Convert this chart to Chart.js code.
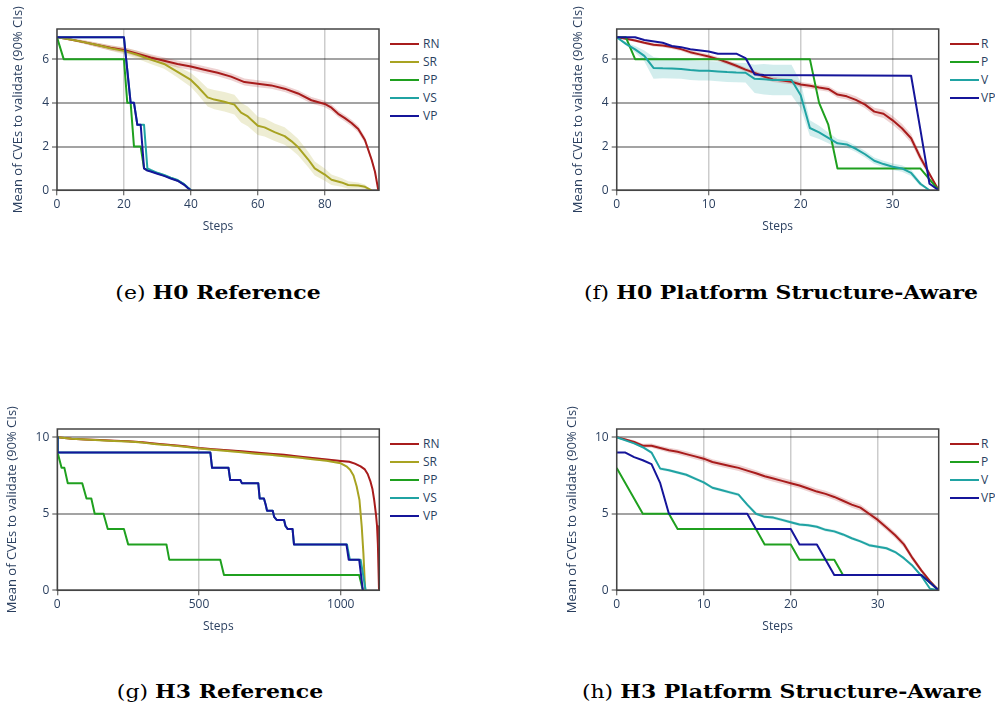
<!DOCTYPE html>
<html>
<head>
<meta charset="utf-8">
<script src="https://cdn.jsdelivr.net/npm/chart.js@4.4.1/dist/chart.umd.min.js"></script>
<style>
  html, body { margin: 0; padding: 0; background: #fff; }
  body { width: 995px; height: 708px; position: relative; overflow: hidden; font-family: 'Open Sans', sans-serif; }
  canvas { position: absolute; }
  .legend { position: absolute; font: 12px 'Open Sans', sans-serif; color: #2a3f5f; }
  .legend .item { position: absolute; left: 0; height: 18px; line-height: 18px; white-space: nowrap; }
  .legend .swatch { position: absolute; left: 0; top: 8px; width: 29px; height: 2px; }
  .legend .name { position: absolute; top: 0; }
  .caption { position: absolute; font-family: 'DejaVu Serif', serif; font-size: 18px; line-height: 20px; color: #000; white-space: nowrap; transform: translateX(-50%) scaleX(1.22); }
  .caption b { font-weight: bold; }
</style>
</head>
<body>
<canvas id="e" width="385" height="240" style="left:0px;top:0px"></canvas>
<canvas id="f" width="385" height="240" style="left:560px;top:0px"></canvas>
<canvas id="g" width="385" height="240" style="left:0px;top:400px"></canvas>
<canvas id="h" width="385" height="240" style="left:560px;top:400px"></canvas>

<div class="caption" style="left:218px;top:283px">(e) <b>H0 Reference</b></div>
<div class="caption" style="left:781px;top:283px">(f) <b>H0 Platform Structure-Aware</b></div>
<div class="caption" style="left:220px;top:682px">(g) <b>H3 Reference</b></div>
<div class="caption" style="left:782px;top:682px">(h) <b>H3 Platform Structure-Aware</b></div>

<script>
// ---------- tick labels ----------
const h0RefTicksX = [0, 20, 40, 60, 80];
const h0PsaTicksX = [0, 10, 20, 30];
const h3RefTicksX = [0, 500, 1000];
const h3PsaTicksX = [0, 10, 20, 30];
const h0TicksY = [0, 2, 4, 6];
const h3TicksY = [0, 5, 10];
const xTitle = 'Steps';
const yTitle = 'Mean of CVEs to validate (90% CIs)';

// ---------- (e) H0 Reference ----------
const eRN_steps = [0,4,8,12,16,20,24,28,32,36,40,44,48,52,56,60,64,68,72,76,80,82,84,86,88,90,92,94,95,96];
const eRN_mean  = [7,6.9,6.78,6.65,6.52,6.42,6.25,6.08,5.93,5.78,5.66,5.52,5.38,5.2,4.95,4.88,4.8,4.65,4.43,4.12,3.95,3.78,3.5,3.3,3.08,2.8,2.3,1.4,0.85,0];
const eRN_ci    = [0,0.05,0.08,0.1,0.12,0.13,0.14,0.15,0.15,0.16,0.16,0.16,0.16,0.16,0.16,0.16,0.15,0.15,0.15,0.15,0.15,0.15,0.15,0.15,0.15,0.15,0.15,0.12,0.1,0];

const eSR_steps = [0,4,8,12,16,20,24,28,32,36,40,42,45,47,50,53,55,57,60,62,65,68,70,72,75,77,80,82,85,87,90,92,94];
const eSR_mean  = [7,6.9,6.78,6.65,6.5,6.38,6.2,5.98,5.78,5.42,5.05,4.75,4.25,4.15,4.05,3.92,3.55,3.38,2.95,2.88,2.66,2.48,2.25,1.98,1.42,1.0,0.72,0.48,0.36,0.24,0.22,0.16,0];
const eSR_ci    = [0,0.05,0.08,0.1,0.12,0.15,0.18,0.2,0.22,0.26,0.32,0.36,0.42,0.44,0.45,0.45,0.45,0.45,0.42,0.42,0.4,0.4,0.38,0.38,0.35,0.32,0.28,0.24,0.2,0.17,0.14,0.1,0];

const ePP_steps = [0,2,20,21,22,23,25,26,27,28,30,32,34,36,38,39,40];
const ePP_mean  = [7,6,6,4,4,2,2,1,0.93,0.88,0.78,0.68,0.56,0.45,0.27,0.13,0];

const eVS_steps = [0,20,21,22,23,24,26,27,28,30,32,34,36,38,39,40];
const eVS_mean  = [7,7,5.5,4,4,3,3,1,0.93,0.8,0.7,0.58,0.47,0.28,0.14,0];

const eVP_steps = [0,20,21,22,23,24,25,26,27,28,30,32,34,36,38,39,40];
const eVP_mean  = [7,7,5.5,4,4,3,3,1,0.9,0.86,0.76,0.66,0.54,0.44,0.25,0.12,0];

// ---------- (f) H0 Platform Structure-Aware ----------
const fR_steps = [0,1,2,3,4,5,6,7,8,9,10,11,12,13,14,15,16,17,18,19,20,21,22,23,24,25,26,27,28,29,30,31,32,33,34,35];
const fR_mean  = [7,6.93,6.85,6.75,6.66,6.62,6.56,6.46,6.32,6.22,6.12,6.0,5.86,5.7,5.52,5.37,5.2,5.07,5.02,4.97,4.84,4.78,4.7,4.64,4.38,4.3,4.14,3.92,3.6,3.5,3.2,2.84,2.38,1.5,0.75,0];
const fR_ci    = [0,0.04,0.06,0.07,0.08,0.08,0.09,0.09,0.1,0.1,0.1,0.1,0.1,0.1,0.1,0.1,0.12,0.12,0.12,0.12,0.12,0.12,0.12,0.13,0.14,0.15,0.16,0.17,0.18,0.19,0.2,0.2,0.2,0.18,0.12,0];

const fP_steps = [0,1,2,21,22,23,24,33,35];
const fP_mean  = [7,7,6,6,4,3,1,1,0];

const fV_steps = [0,1,2,3,4,5,6,7,8,9,10,11,12,13,14,15,16,17,18,19,20,21,22,23,24,25,26,27,28,29,30,31,32,33,34];
const fV_mean  = [7,6.7,6.45,6.15,5.6,5.58,5.57,5.55,5.5,5.47,5.47,5.44,5.41,5.39,5.38,5.1,5.08,5.05,5.05,5.05,4.35,2.85,2.65,2.4,2.15,2.1,1.9,1.65,1.35,1.2,1.08,1.0,0.8,0.3,0];
const fV_ci    = [0,0.08,0.15,0.25,0.5,0.45,0.45,0.45,0.45,0.45,0.45,0.45,0.45,0.45,0.45,0.65,0.7,0.7,0.7,0.7,0.6,0.35,0.3,0.25,0.2,0.15,0.15,0.15,0.15,0.15,0.15,0.15,0.15,0.1,0];

const fVP_steps = [0,2,3,5,6,7,8,10,11,13,14,15,16,32,33,34,35];
const fVP_mean  = [7,7,6.88,6.75,6.6,6.55,6.45,6.35,6.25,6.25,6.05,5.3,5.27,5.24,2.8,0.3,0];

// ---------- (g) H3 Reference ----------
const gRN_steps = [0,50,100,150,200,250,300,350,400,450,500,550,600,650,700,750,800,850,900,950,1000,1030,1050,1070,1085,1095,1105,1112,1118,1124,1128,1131,1133,1135];
const gRN_mean  = [10,9.9,9.85,9.82,9.78,9.74,9.68,9.58,9.5,9.42,9.3,9.22,9.15,9.08,9.0,8.93,8.85,8.75,8.65,8.55,8.45,8.4,8.28,8.1,7.9,7.6,7.1,6.6,5.9,5.0,4.2,3.0,1.5,0];
const gRN_ci    = [0,0.05,0.06,0.06,0.06,0.06,0.06,0.06,0.06,0.06,0.06,0.06,0.06,0.06,0.06,0.06,0.06,0.06,0.06,0.06,0.06,0.06,0.06,0.06,0.06,0.06,0.06,0.06,0.06,0.06,0.06,0.05,0.03,0];

const gSR_steps = [0,50,100,150,200,250,300,350,400,450,500,550,600,650,700,750,800,850,900,950,1000,1020,1033,1045,1056,1066,1074,1080,1086];
const gSR_mean  = [10,9.9,9.85,9.8,9.76,9.72,9.65,9.55,9.47,9.38,9.27,9.18,9.1,9.02,8.93,8.85,8.76,8.67,8.57,8.46,8.3,8.1,7.88,7.5,6.8,5.9,4.17,2.4,0];
const gSR_ci    = [0,0.05,0.06,0.06,0.06,0.06,0.06,0.06,0.06,0.06,0.06,0.06,0.06,0.06,0.06,0.06,0.06,0.06,0.06,0.06,0.06,0.06,0.06,0.06,0.06,0.06,0.05,0.03,0];

const gPP_steps = [0,1,15,25,37,88,103,120,132,163,178,235,250,385,395,575,588,1065,1078];
const gPP_mean  = [10,9,8,8,7,7,6,6,5,5,4,4,3,3,2,2,1,1,0];

const gVS_steps = [0,1,540,546,604,610,646,651,709,714,729,735,740,760,765,774,800,805,813,830,835,1022,1032,1070,1088];
const gVS_mean  = [10,9,9,8,8,7.2,7.2,7,7,6,6,5.6,5.2,5.2,4.8,4.6,4.6,4.2,4,4,3,3,2,2,0];

const gVP_steps = [0,1,540,546,604,610,646,651,709,714,729,735,740,760,765,774,800,805,813,830,835,1020,1028,1065,1078];
const gVP_mean  = [10,9,9,8,8,7.2,7.2,7,7,6,6,5.6,5.2,5.2,4.8,4.6,4.6,4.2,4,4,3,3,2,2,0];

// ---------- (h) H3 Platform Structure-Aware ----------
const hR_steps = [0,1,2,3,4,5,6,7,8,9,10,11,12,13,14,15,16,17,18,19,20,21,22,23,24,25,26,27,28,29,30,31,32,33,34,35,36,37];
const hR_mean  = [10,9.85,9.7,9.45,9.45,9.3,9.15,9.05,8.9,8.75,8.6,8.38,8.25,8.12,8.0,7.82,7.65,7.45,7.3,7.15,7.0,6.85,6.65,6.45,6.3,6.1,5.85,5.6,5.4,5.0,4.6,4.1,3.6,3.0,2.1,1.3,0.6,0];
const hR_ci    = [0,0.08,0.1,0.12,0.14,0.15,0.16,0.17,0.18,0.18,0.18,0.19,0.19,0.19,0.2,0.2,0.2,0.2,0.2,0.2,0.2,0.2,0.2,0.2,0.2,0.2,0.2,0.2,0.2,0.2,0.2,0.2,0.2,0.2,0.18,0.15,0.1,0];

const hP_steps = [0,3,6,7,16,17,20,21,25,26,35,37];
const hP_mean  = [8,5,5,4,4,3,3,2,2,1,1,0];

const hV_steps = [0,1,2,3,4,5,6,7,8,9,10,11,12,13,14,15,16,17,18,19,20,21,22,23,24,25,26,27,28,29,30,31,32,33,34,35,36,37];
const hV_mean  = [10,9.8,9.6,9.35,9.0,7.95,7.85,7.7,7.55,7.3,7.05,6.7,6.55,6.4,6.25,5.6,5.0,4.8,4.75,4.6,4.45,4.3,4.25,4.15,3.95,3.85,3.65,3.4,3.2,2.95,2.85,2.75,2.5,2.1,1.6,0.95,0.1,0];
const hV_ci    = [0,0.05,0.06,0.08,0.1,0.1,0.1,0.1,0.1,0.1,0.1,0.1,0.1,0.1,0.1,0.1,0.1,0.1,0.1,0.1,0.1,0.1,0.1,0.1,0.1,0.1,0.1,0.1,0.1,0.1,0.1,0.1,0.1,0.1,0.1,0.08,0.04,0];

const hVP_steps = [0,1,2,3,4,5,6,15,16,20,21,23,25,35,37];
const hVP_mean  = [9,9,8.7,8.5,8.25,7.0,5,5,4,4,3,3,1,1,0];

// ---------- styling ----------
const COLORS = {
  red:   '#a81c1c', olive: '#a8a322', green: '#1fa01f', teal: '#20a3a3', navy: '#15159a'
};
const BANDS = {
  red: 'rgba(168,28,28,0.2)', olive: 'rgba(168,163,34,0.2)', teal: 'rgba(32,163,163,0.2)'
};
const TEXT = '#2a3f5f';
const FONT = { family: "'Open Sans', sans-serif", size: 12 };

const toPoints = (steps, vals) => steps.map((x, i) => ({ x, y: vals[i] }));

// dark frame around the plotting area
const framePlugin = {
  id: 'frame',
  afterDatasetsDraw(chart) {
    const { ctx, chartArea: a } = chart;
    ctx.save();
    ctx.strokeStyle = '#444';
    ctx.lineWidth = 1.5;
    ctx.strokeRect(a.left, a.top, a.right - a.left, a.bottom - a.top);
    ctx.restore();
  }
};

// vertical axis title, centred on the plot area and free to run past it
const yTitlePlugin = {
  id: 'yTitle',
  afterDraw(chart, args, opts) {
    const { ctx, chartArea: a } = chart;
    ctx.save();
    ctx.font = "13px 'Open Sans', sans-serif";
    ctx.fillStyle = TEXT;
    ctx.textAlign = 'center';
    ctx.textBaseline = 'middle';
    ctx.translate(opts.x, (a.top + a.bottom) / 2);
    ctx.rotate(-Math.PI / 2);
    ctx.fillText(opts.text, 0, 0);
    ctx.restore();
  }
};

function buildPanel(id, cfg) {
  const datasets = [];
  cfg.series.forEach(s => {
    if (!s.ci) return;
    datasets.push({
      data: s.steps.map((x, i) => ({ x, y: s.mean[i] + s.ci[i] })),
      borderWidth: 0, pointRadius: 0, fill: false, order: 20
    });
    datasets.push({
      data: s.steps.map((x, i) => ({ x, y: s.mean[i] - s.ci[i] })),
      borderWidth: 0, pointRadius: 0, fill: '-1', backgroundColor: BANDS[s.color], order: 20
    });
  });
  cfg.series.forEach((s, k) => {
    datasets.push({
      label: s.name,
      data: toPoints(s.steps, s.mean),
      borderColor: COLORS[s.color],
      borderWidth: 2,
      borderJoinStyle: 'round',
      pointRadius: 0,
      tension: 0,
      fill: false,
      order: 10 - k
    });
  });

  new Chart(document.getElementById(id), {
    type: 'line',
    data: { datasets },
    plugins: [framePlugin, yTitlePlugin],
    options: {
      responsive: false,
      animation: false,
      devicePixelRatio: 1,
      layout: { autoPadding: false, padding: { left: 0, top: 29, right: cfg.padRight, bottom: 0 } },
      plugins: {
        legend: { display: false },
        tooltip: { enabled: false },
        yTitle: { x: cfg.titleX, text: yTitle }
      },
      scales: {
        x: {
          type: 'linear', min: 0, max: cfg.xMax,
          afterBuildTicks: sc => { sc.ticks = cfg.xTicks.map(v => ({ value: v })); },
          afterFit: sc => { sc.height = 49.7; },
          border: { display: false },
          grid: { color: 'rgba(0,0,0,0.2)', lineWidth: 1.5, tickColor: '#444', tickLength: 5, tickWidth: 1 },
          ticks: { color: TEXT, font: FONT, padding: 2, maxRotation: 0, autoSkip: false, callback: v => String(v) },
          title: { display: true, text: xTitle, color: TEXT, font: FONT, padding: { top: 0, bottom: 5.8 } }
        },
        y: {
          type: 'linear', min: 0, max: cfg.yMax,
          afterBuildTicks: sc => { sc.ticks = cfg.yTicks.map(v => ({ value: v })); },
          afterFit: sc => { sc.width = cfg.axisW; },
          border: { display: false },
          grid: { color: 'rgba(0,0,0,0.36)', lineWidth: 2, tickColor: '#444', tickLength: 5, tickWidth: 1 },
          ticks: { color: TEXT, font: FONT, padding: 3, callback: v => String(v) },
          title: { display: false }
        }
      }
    }
  });

  // legend beside the plot
  const box = document.createElement('div');
  box.className = 'legend';
  box.style.left = cfg.legendX + 'px';
  box.style.top = cfg.legendY + 'px';
  cfg.series.forEach((s, k) => {
    const item = document.createElement('div');
    item.className = 'item';
    item.style.top = (k * 18.1) + 'px';
    const sw = document.createElement('div');
    sw.className = 'swatch';
    sw.style.background = COLORS[s.color];
    const nm = document.createElement('div');
    nm.className = 'name';
    nm.style.left = cfg.labelDx + 'px';
    nm.textContent = s.name;
    item.appendChild(sw); item.appendChild(nm);
    box.appendChild(item);
  });
  document.body.appendChild(box);
}

buildPanel('e', {
  xMax: 96.2, yMax: 7.38, xTicks: h0RefTicksX, yTicks: h0TicksY,
  axisW: 57, padRight: 6, titleX: 18, legendX: 390, legendY: 35, labelDx: 33,
  series: [
    { name: 'RN', color: 'red',   steps: eRN_steps, mean: eRN_mean, ci: eRN_ci },
    { name: 'SR', color: 'olive', steps: eSR_steps, mean: eSR_mean, ci: eSR_ci },
    { name: 'PP', color: 'green', steps: ePP_steps, mean: ePP_mean },
    { name: 'VS', color: 'teal',  steps: eVS_steps, mean: eVS_mean },
    { name: 'VP', color: 'navy',  steps: eVP_steps, mean: eVP_mean }
  ]
});

buildPanel('f', {
  xMax: 35, yMax: 7.38, xTicks: h0PsaTicksX, yTicks: h0TicksY,
  axisW: 56.7, padRight: 6.3, titleX: 18, legendX: 950, legendY: 35, labelDx: 31,
  series: [
    { name: 'R',  color: 'red',   steps: fR_steps,  mean: fR_mean, ci: fR_ci },
    { name: 'P',  color: 'green', steps: fP_steps,  mean: fP_mean },
    { name: 'V',  color: 'teal',  steps: fV_steps,  mean: fV_mean, ci: fV_ci },
    { name: 'VP', color: 'navy',  steps: fVP_steps, mean: fVP_mean }
  ]
});

buildPanel('g', {
  xMax: 1136, yMax: 10.54, xTicks: h3RefTicksX, yTicks: h3TicksY,
  axisW: 57.3, padRight: 5.7, titleX: 12, legendX: 390, legendY: 435, labelDx: 33,
  series: [
    { name: 'RN', color: 'red',   steps: gRN_steps, mean: gRN_mean, ci: gRN_ci },
    { name: 'SR', color: 'olive', steps: gSR_steps, mean: gSR_mean, ci: gSR_ci },
    { name: 'PP', color: 'green', steps: gPP_steps, mean: gPP_mean },
    { name: 'VS', color: 'teal',  steps: gVS_steps, mean: gVS_mean },
    { name: 'VP', color: 'navy',  steps: gVP_steps, mean: gVP_mean }
  ]
});

buildPanel('h', {
  xMax: 37, yMax: 10.54, xTicks: h3PsaTicksX, yTicks: h3TicksY,
  axisW: 56.7, padRight: 6.3, titleX: 12, legendX: 950, legendY: 435, labelDx: 31,
  series: [
    { name: 'R',  color: 'red',   steps: hR_steps,  mean: hR_mean, ci: hR_ci },
    { name: 'P',  color: 'green', steps: hP_steps,  mean: hP_mean },
    { name: 'V',  color: 'teal',  steps: hV_steps,  mean: hV_mean, ci: hV_ci },
    { name: 'VP', color: 'navy',  steps: hVP_steps, mean: hVP_mean }
  ]
});
</script>
</body>
</html>
